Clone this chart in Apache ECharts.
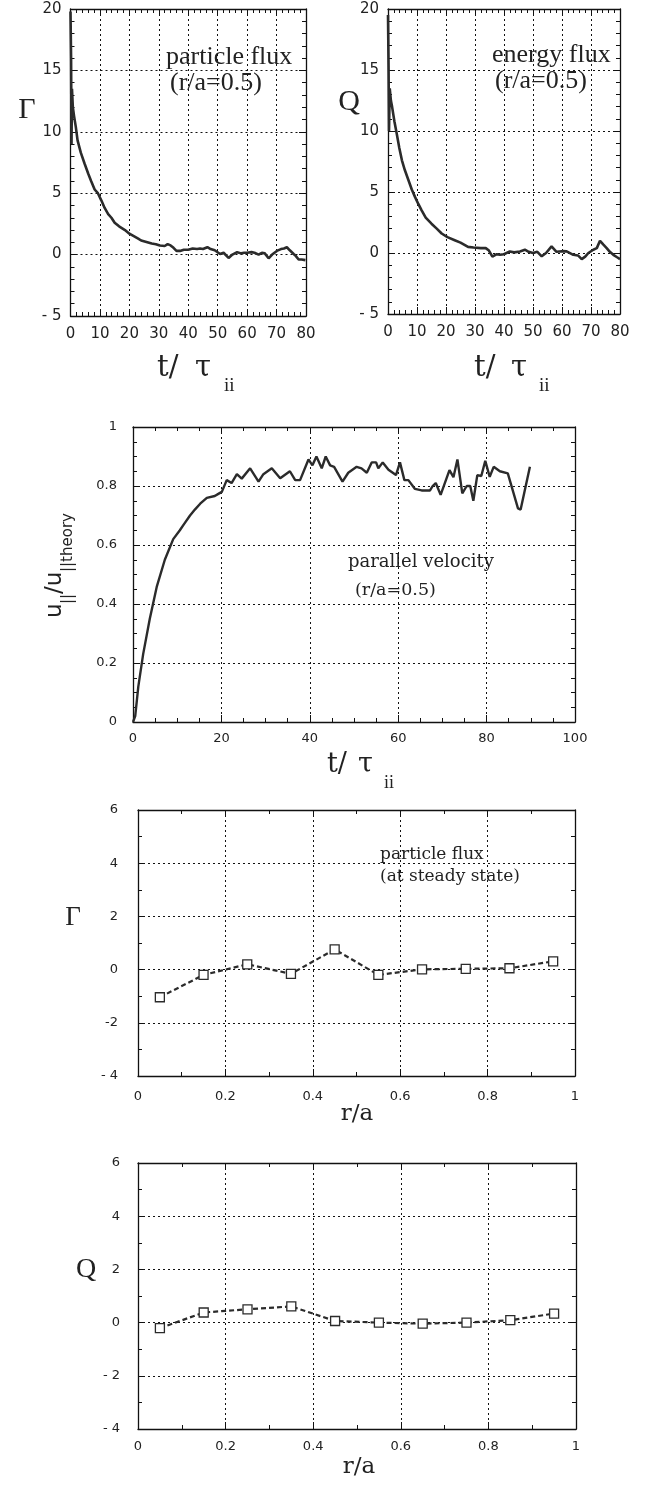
<!DOCTYPE html>
<html>
<head>
<meta charset="utf-8">
<script src="https://cdn.jsdelivr.net/npm/echarts@6/dist/echarts.min.js"></script>
<style>
html,body{margin:0;padding:0;background:#fff;}
#c{width:655px;height:1485px;}
</style>
</head>
<body>
<div id="c"></div>
<script>
// ---------- DATA ----------
const gammaT = [0,0.2,0.35,0.5,0.8,1.2,1.8,2.4,3.5,4.8,6,7,8.2,9.3,10.5,11.6,12.8,13.9,15,16.5,18.5,20,21.5,23,24,25.5,27.6,29,30.4,32,33,34,35,36,37.2,38.5,40,41.5,43,44,45,46.5,47.6,49,50.8,52,53.7,55,56.6,58,59,60,61.5,62.5,63.9,65,66,67.3,68.5,70.1,71.5,72.5,73.5,74.5,75.8,76.5,77.5,78.5,79.8];
const gammaV = [19.8,16,9,13.5,12,11.3,10.4,9.3,8.3,7.4,6.6,6.0,5.3,5.0,4.4,3.8,3.3,3.0,2.6,2.3,2.0,1.7,1.5,1.3,1.15,1.05,0.9,0.85,0.74,0.7,0.85,0.75,0.55,0.3,0.3,0.4,0.4,0.5,0.45,0.5,0.45,0.6,0.45,0.35,0.05,0.15,-0.27,0,0.2,0.1,0.15,0.15,0.2,0.15,0.0,0.15,0.1,-0.3,0.0,0.3,0.45,0.5,0.6,0.35,0.05,-0.1,-0.4,-0.4,-0.45];

const qT = [0,0.2,0.35,0.6,1,1.4,2.2,3,3.9,4.8,5.8,7,8.2,9.3,10.5,11.6,13,15,16.8,18.5,20.5,23,25,27.6,29.5,32,33.7,34.8,36,37.5,38.6,40,42,43.5,45.5,47.2,48.5,50,51.5,53,54.5,56.4,58.1,60,61.6,63.9,65.5,66.8,68,69.1,70.8,72,73.1,74.2,75.4,76.5,77.7,79,80];
const qV = [19.5,15,10,13.5,12.5,12,10.8,9.8,8.6,7.6,6.8,6.0,5.2,4.6,4.0,3.5,2.9,2.4,2.0,1.6,1.3,1.05,0.85,0.5,0.45,0.4,0.4,0.2,-0.3,-0.1,-0.15,-0.1,0.13,0.05,0.13,0.27,0.1,0,0.1,-0.27,0,0.54,0.1,0.15,0.13,-0.15,-0.2,-0.5,-0.3,0,0.27,0.4,1.0,0.7,0.4,0.1,-0.15,-0.35,-0.5];

const velT = [0,0.5,1.2,2.3,3.8,5.4,7.2,9.1,10.6,11.5,12.9,14,15.2,16.7,18.5,19.5,20.1,21.2,22.3,23.5,24.6,26.5,28.4,29.5,31.4,33.3,35.5,36.7,37.8,39.7,40.6,41.5,42.7,43.6,44.6,45.5,47.4,48.7,50.6,51.7,52.9,54,55,55.5,56.5,57.8,59.5,60.4,61.4,62.3,63.8,65.3,67.2,67.8,68.5,69.6,71.6,72.5,73.4,74.5,75.5,76.3,77,77.9,78.8,79.7,80.7,81.6,83,84.8,87.1,87.7,89.8];
const velV = [0,0.02,0.12,0.23,0.35,0.46,0.55,0.62,0.65,0.67,0.70,0.72,0.74,0.76,0.766,0.775,0.78,0.82,0.81,0.84,0.825,0.86,0.815,0.84,0.86,0.826,0.85,0.82,0.82,0.89,0.87,0.90,0.86,0.90,0.87,0.865,0.815,0.845,0.865,0.86,0.845,0.88,0.88,0.86,0.88,0.855,0.837,0.88,0.82,0.82,0.79,0.785,0.785,0.80,0.81,0.77,0.854,0.83,0.89,0.775,0.80,0.80,0.75,0.837,0.834,0.885,0.831,0.865,0.85,0.843,0.724,0.72,0.865];

const radius = [0.05,0.15,0.25,0.35,0.45,0.55,0.65,0.75,0.85,0.95];
const gammaSteady = [-1.04,-0.2,0.2,-0.16,0.76,-0.2,0.01,0.03,0.05,0.31];
const qSteady = [-0.21,0.38,0.5,0.61,0.06,0.0,-0.04,0.0,0.09,0.34];

// ---------- HELPERS ----------
const zip = (a, b) => a.map((v, i) => [v, b[i]]);
const TICKFONT = 'DejaVu Sans';
const SERIF = 'Liberation Serif';
const DSERIF = 'DejaVu Serif';
const INK = '#222';

function negSpace(v){ return v < 0 ? '- ' + Math.abs(v) : String(v); }

const grids = [
  {left:70.5, top:9, width:235.5, height:307},
  {left:388, top:9, width:232, height:305},
  {left:133, top:427, width:442, height:295},
  {left:138, top:810, width:437, height:266},
  {left:138, top:1163, width:438, height:266}
];

const axisCfg = [
  {x:{min:0,max:80,interval:10,minor:5,fs:15,fmt:v=>String(v),margin:11},
   y:{min:-5,max:20,interval:5,minor:5,fs:15,fmt:negSpace,margin:9}},
  {x:{min:0,max:80,interval:10,minor:5,fs:15,fmt:v=>String(v),margin:11},
   y:{min:-5,max:20,interval:5,minor:5,fs:15,fmt:negSpace,margin:9}},
  {x:{min:0,max:100,interval:20,minor:4,fs:13,fmt:v=>String(v),margin:10},
   y:{min:0,max:1,interval:0.2,minor:4,fs:13,fmt:v=>String(+v.toFixed(1)),margin:16}},
  {x:{min:0,max:1,interval:0.2,minor:2,fs:13,fmt:v=>String(+v.toFixed(1)),margin:14},
   y:{min:-4,max:6,interval:2,minor:2,fs:13,fmt:v=>(v===-4?'- 4':String(v)),margin:20}},
  {x:{min:0,max:1,interval:0.2,minor:2,fs:13,fmt:v=>String(+v.toFixed(1)),margin:11},
   y:{min:-4,max:6,interval:2,minor:2,fs:13,fmt:v=>(v<0?'- '+Math.abs(v):String(v)),margin:18}}
];

const xAxes = [], yAxes = [];
const lineStyleAxis = {color:'#111', width:1.3};
const splitDotted = {show:true, lineStyle:{type:[2,3], color:'#111', width:1}};

axisCfg.forEach((c, gi) => {
  // bottom x
  xAxes.push({type:'value', gridIndex:gi, position:'bottom', min:c.x.min, max:c.x.max, interval:c.x.interval,
    axisLine:{show:true, onZero:false, lineStyle:lineStyleAxis},
    axisTick:{show:true, inside:true, length:7, lineStyle:{color:'#111'}},
    minorTick:{show:true, splitNumber:c.x.minor, length:4, lineStyle:{color:'#111'}},
    splitLine:splitDotted,
    axisLabel:{show:true, margin:c.x.margin, fontFamily:TICKFONT, fontSize:c.x.fs, color:INK, formatter:c.x.fmt}
  });
  // top mirror x
  xAxes.push({type:'value', gridIndex:gi, position:'top', min:c.x.min, max:c.x.max, interval:c.x.interval,
    axisLine:{show:true, onZero:false, lineStyle:lineStyleAxis},
    axisTick:{show:true, inside:true, length:7, lineStyle:{color:'#111'}},
    minorTick:{show:true, splitNumber:c.x.minor, length:4, lineStyle:{color:'#111'}},
    splitLine:{show:false}, axisLabel:{show:false}
  });
  // left y
  yAxes.push({type:'value', gridIndex:gi, position:'left', min:c.y.min, max:c.y.max, interval:c.y.interval,
    axisLine:{show:true, onZero:false, lineStyle:lineStyleAxis},
    axisTick:{show:true, inside:true, length:7, lineStyle:{color:'#111'}},
    minorTick:{show:true, splitNumber:c.y.minor, length:4, lineStyle:{color:'#111'}},
    splitLine:splitDotted,
    axisLabel:{show:true, margin:c.y.margin, fontFamily:TICKFONT, fontSize:c.y.fs, color:INK, formatter:c.y.fmt}
  });
  // right mirror y
  yAxes.push({type:'value', gridIndex:gi, position:'right', min:c.y.min, max:c.y.max, interval:c.y.interval,
    axisLine:{show:true, onZero:false, lineStyle:lineStyleAxis},
    axisTick:{show:true, inside:true, length:7, lineStyle:{color:'#111'}},
    minorTick:{show:true, splitNumber:c.y.minor, length:4, lineStyle:{color:'#111'}},
    splitLine:{show:false}, axisLabel:{show:false}
  });
});

const curveStyle = {color:'#2b2b2b', width:2.6};
const series = [
  {type:'line', xAxisIndex:0, yAxisIndex:0, data:zip(gammaT, gammaV), showSymbol:false, lineStyle:curveStyle, itemStyle:{color:'#2b2b2b'}},
  {type:'line', xAxisIndex:2, yAxisIndex:2, data:zip(qT, qV), showSymbol:false, lineStyle:curveStyle, itemStyle:{color:'#2b2b2b'}},
  {type:'line', xAxisIndex:4, yAxisIndex:4, data:zip(velT, velV), showSymbol:false, lineStyle:{color:'#2b2b2b', width:2.4}, itemStyle:{color:'#2b2b2b'}},
  {type:'line', xAxisIndex:6, yAxisIndex:6, data:zip(radius, gammaSteady), symbol:'rect', symbolSize:9,
    lineStyle:{color:'#2b2b2b', width:2.2, type:[5,3]}, itemStyle:{color:'#fff', borderColor:'#2b2b2b', borderWidth:1.3}},
  {type:'line', xAxisIndex:8, yAxisIndex:8, data:zip(radius, qSteady), symbol:'rect', symbolSize:9,
    lineStyle:{color:'#2b2b2b', width:2.2, type:[5,3]}, itemStyle:{color:'#fff', borderColor:'#2b2b2b', borderWidth:1.3}}
];

function txt(x, y, text, font, align, extra){
  return Object.assign({type:'text', x:x, y:y, silent:true,
    style:{text:text, font:font, fill:INK, textAlign:align||'left', textVerticalAlign:'middle'}}, extra||{});
}

const graphic = [
  // panel 1
  txt(27, 110, 'Γ', '30px ' + SERIF, 'center'),
  txt(166, 57, 'particle flux', '26px ' + SERIF),
  txt(170, 83, '(r/a=0.5)', '26px ' + SERIF),
  txt(157, 368, 't/', '29px ' + DSERIF),
  txt(195, 368, 'τ', '29px ' + DSERIF),
  txt(224, 386, 'ii', '19px ' + SERIF),
  // panel 2
  txt(349, 102, 'Q', '30px ' + SERIF, 'center'),
  txt(492, 55, 'energy flux', '26px ' + SERIF),
  txt(495, 81, '(r/a=0.5)', '26px ' + SERIF),
  txt(474, 368, 't/', '29px ' + DSERIF),
  txt(511, 368, 'τ', '29px ' + DSERIF),
  txt(539, 386, 'ii', '19px ' + SERIF),
  // panel 3
  txt(348, 562, 'parallel velocity', '18px ' + DSERIF),
  txt(355, 590, '(r/a=0.5)', '17.5px ' + DSERIF),
  txt(327, 765, 't/', '27px ' + DSERIF),
  txt(358, 765, 'τ', '27px ' + DSERIF),
  txt(384, 783, 'ii', '18px ' + SERIF),
  {type:'group', x:55, y:618, rotation:Math.PI/2, silent:true, children:[
    txt(0, 0, 'u', '23px ' + TICKFONT),
    txt(14, 13, '||', '15px ' + TICKFONT),
    txt(24, 0, '/u', '23px ' + TICKFONT),
    txt(46, 13, '||theory', '15px ' + TICKFONT)
  ]},
  // panel 4
  txt(73, 918, 'Γ', '27px ' + SERIF, 'center'),
  txt(380, 855, 'particle flux', '17px ' + DSERIF),
  txt(380, 877, '(at steady state)', '17px ' + DSERIF),
  txt(357, 1114, 'r/a', '23px ' + DSERIF, 'center'),
  // panel 5
  txt(86, 1270, 'Q', '28px ' + SERIF, 'center'),
  txt(359, 1467, 'r/a', '23px ' + DSERIF, 'center')
];

const chart = echarts.init(document.getElementById('c'), null, {renderer:'canvas'});
chart.setOption({
  backgroundColor:'#ffffff',
  animation:false,
  grid:grids,
  xAxis:xAxes,
  yAxis:yAxes,
  series:series,
  graphic:graphic
});
</script>
</body>
</html>
